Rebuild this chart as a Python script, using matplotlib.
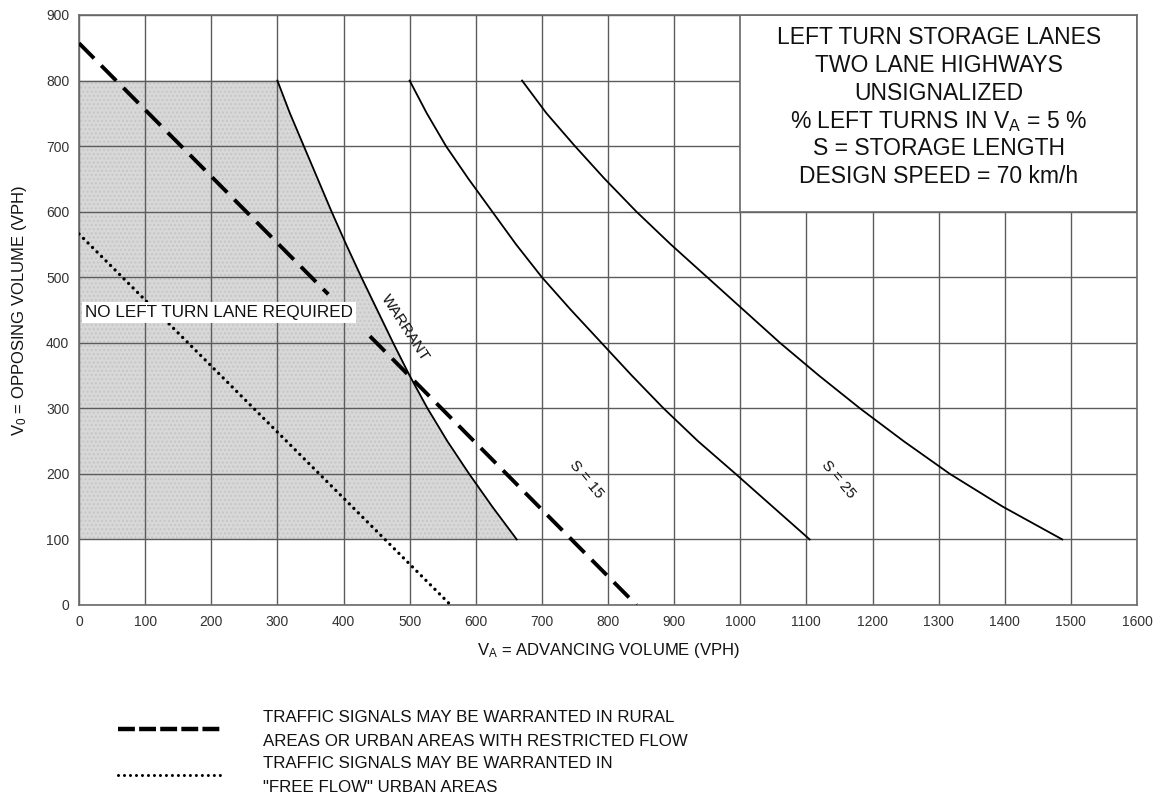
"""
Left turn storage lanes chart - two lane highways, unsignalized, 70 km/h
"""
import numpy as np
import matplotlib
matplotlib.use('Agg')
import matplotlib.pyplot as plt
from matplotlib.patches import Rectangle
from matplotlib.lines import Line2D

plt.rcParams['font.family'] = ['Liberation Sans', 'DejaVu Sans']
plt.rcParams['mathtext.default'] = 'regular'

# ── DATA ─────────────────────────────────────────────────────────────────────
x_ticks = list(range(0, 1700, 100))
y_ticks = list(range(0, 1000, 100))

# opposing volume levels at which the curves were read
curve_y = [800, 750, 700, 650, 600, 550, 500, 450, 400, 350, 300, 250, 200, 150, 100]

warrant_x = [300, 319, 340, 361, 382, 404, 427, 451, 475, 500, 527, 557, 590, 625, 662]
s15_x = [500, 526, 555, 589, 625, 661, 700, 744, 790, 836, 884, 936, 993, 1049, 1105]
s25_x = [670, 707, 750, 795, 843, 895, 950, 1005, 1060, 1119, 1181, 1247, 1317, 1397, 1487]

# rural / restricted flow signal warrant (broken where it meets the label)
rural_x = [0, 377, np.nan, 440, 843]
rural_y = [857, 474, np.nan, 410, 0]

# free flow urban signal warrant
urban_x = [0, 562]
urban_y = [566, 0]

info_lines = ['LEFT TURN STORAGE LANES', 'TWO LANE HIGHWAYS', 'UNSIGNALIZED',
              '% LEFT TURNS IN V$_A$ = 5 %', 'S = STORAGE LENGTH',
              'DESIGN SPEED = 70 km/h']

# ── PLOT ─────────────────────────────────────────────────────────────────────
W, H = 1162, 808
fig = plt.figure(figsize=(W / 100, H / 100), dpi=100)
ax = fig.add_axes([79 / W, 1 - 605 / H, 1058 / W, 590 / H])

ax.set_xlim(0, 1600)
ax.set_ylim(0, 900)
ax.set_xticks(x_ticks)
ax.set_yticks(y_ticks)
ax.tick_params(length=0, labelsize=10, colors='#333333', pad=7)
ax.set_axisbelow(True)
ax.grid(True, color='#5c5c5c', linewidth=1.0)
for sp in ax.spines.values():
    sp.set_color('#6a6a6a')
    sp.set_linewidth(1.2)

# shaded "no left turn lane" zone
shade_x = [0, 0] + warrant_x
shade_y = [curve_y[-1], curve_y[0]] + curve_y
ax.fill(shade_x, shade_y, facecolor='#d8d8d8', edgecolor='none', zorder=0.3)
ax.fill(shade_x, shade_y, facecolor='none', edgecolor='#c6c6c6', hatch='....',
        linewidth=0, zorder=0.35)

# info box covers the grid in the top right
ax.add_patch(Rectangle((1000, 600), 600, 300, facecolor='white',
                       edgecolor='#6a6a6a', linewidth=1.2, zorder=2))
for i, line in enumerate(info_lines):
    ax.text(1300, 866 - i * 42.6, line, ha='center', va='center',
            fontsize=16.5, color='#111111', zorder=3)

# curves
for cx in [warrant_x, s15_x, s25_x]:
    ax.plot(cx, curve_y, color='black', linewidth=1.3, zorder=4,
            solid_joinstyle='round')

ax.plot(rural_x, rural_y, color='black', linewidth=2.8,
        linestyle=(0, (5.5, 2.6)), zorder=5)
ax.plot(urban_x, urban_y, color='black', linewidth=2.4,
        linestyle=(0, (0.01, 1.9)), dash_capstyle='round', zorder=5)

# labels on the chart
ax.text(212, 446, 'NO LEFT TURN LANE REQUIRED', ha='center', va='center',
        fontsize=12.3, color='#111111', zorder=6,
        bbox=dict(facecolor='white', edgecolor='none', pad=2))
ax.text(493, 423, 'WARRANT', rotation=-57, ha='center', va='center',
        fontsize=11, color='#111111', zorder=6, rotation_mode='anchor')
ax.text(768, 192, 'S = 15', rotation=-50, ha='center', va='center',
        fontsize=11, color='#111111', zorder=6, rotation_mode='anchor')
ax.text(1148, 191, 'S = 25', rotation=-50, ha='center', va='center',
        fontsize=11, color='#111111', zorder=6, rotation_mode='anchor')

ax.set_xlabel('V$_A$ = ADVANCING VOLUME (VPH)', fontsize=12, color='#111111',
              labelpad=9)
ax.set_ylabel('V$_0$ = OPPOSING VOLUME (VPH)', fontsize=12, color='#111111',
              labelpad=12)

# legend drawn below the axes
fig.add_artist(Line2D([118 / W, 222 / W], [1 - 729 / H, 1 - 729 / H],
                      color='black', linewidth=3.2, linestyle=(0, (3.8, 0.95))))
fig.add_artist(Line2D([118 / W, 222 / W], [1 - 775 / H, 1 - 775 / H],
                      color='black', linewidth=2.2, linestyle=(0, (0.01, 1.95)),
                      dash_capstyle='round'))
legend_text = [
    ('TRAFFIC SIGNALS MAY BE WARRANTED IN RURAL', 717),
    ('AREAS OR URBAN AREAS WITH RESTRICTED FLOW', 742),
    ('TRAFFIC SIGNALS MAY BE WARRANTED IN', 763),
    ('"FREE FLOW" URBAN AREAS', 787),
]
for txt, py in legend_text:
    fig.text(263 / W, 1 - py / H, txt, ha='left', va='center', fontsize=12.2,
             color='#111111')

fig.savefig('out.png', dpi=100, facecolor='white')
